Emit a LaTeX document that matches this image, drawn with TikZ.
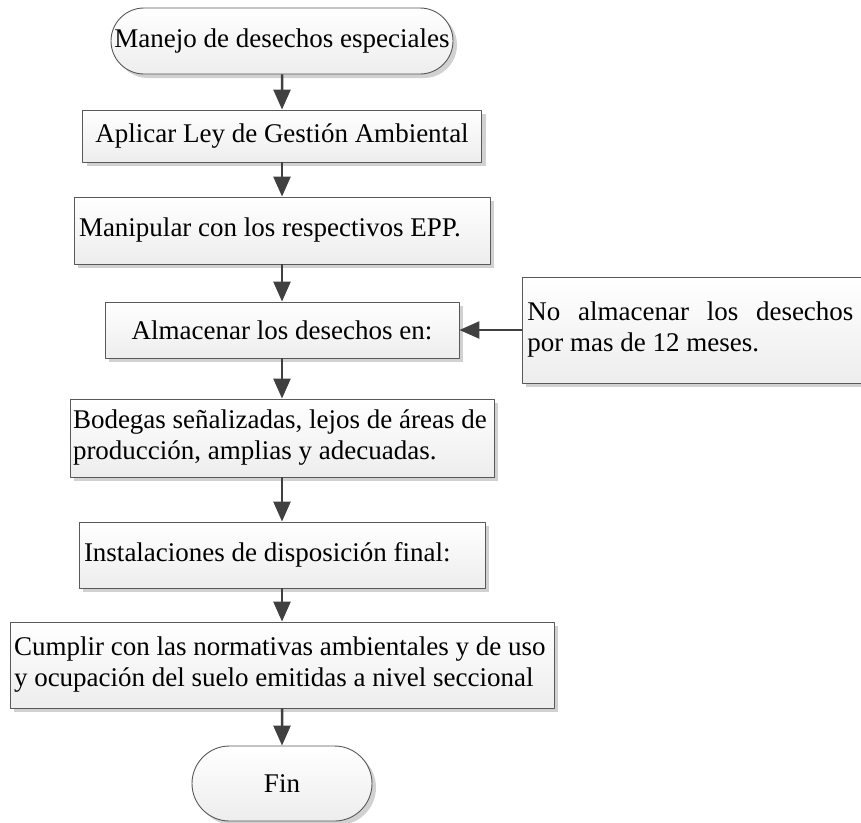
\documentclass[tikz,border=0pt]{standalone}
\usepackage{fontspec}
\setmainfont{Liberation Serif}
\usetikzlibrary{shapes.misc,shadows,arrows.meta}
\tikzset{
  box/.style={rectangle, draw=black!65, line width=0.9pt, top color=white, bottom color=black!7,
    drop shadow={shadow xshift=4pt, shadow yshift=-4pt, fill=black!18, opacity=1},
    inner xsep=5pt, inner ysep=0pt},
  term/.style={box, rounded rectangle},
  flow/.style={draw=black!75, line width=2.5pt, -{Triangle[length=20pt,width=17pt]}}
}
\begin{document}
\begin{tikzpicture}[x=1pt, y=-1pt, font=\fontsize{27}{31}\selectfont, line join=round]
\useasboundingbox (0,0) rectangle (861,822);
\node[term, minimum width=352pt, minimum height=66pt] (start) at (282,41) {Manejo de desechos especiales};
\node[box, minimum width=399pt, minimum height=52pt] (ley) at (282,136) {Aplicar Ley de Gestión Ambiental};
\node[box, minimum height=67pt, text width=406pt, align=flush left] (epp) at (282,230.5) {Manipular con los respectivos EPP.};
\node[box, minimum width=354pt, minimum height=56pt] (almacenar) at (282,330) {Almacenar los desechos en:};
\node[box, anchor=west, minimum height=106pt, text width=340pt, align=flush left] (plazo) at (522,330)
  {\hbox to 326pt{No\hfill almacenar\hfill los\hfill desechos}\\por mas de 12 meses.};
\node[box, inner xsep=3pt, minimum height=78pt, text width=418pt, align=flush left] (bodegas) at (282,438)
  {Bodegas señalizadas, lejos de áreas de\\producción, amplias y adecuadas.};
\node[box, minimum height=66pt, text width=396pt, align=flush left] (inst) at (282,555) {Instalaciones de disposición final:};
\node[box, inner xsep=4pt, minimum height=86pt, text width=536pt, align=flush left] (normas) at (282,665)
  {Cumplir con las normativas ambientales y de uso\\y ocupación del suelo emitidas a nivel seccional};
\node[term, minimum width=190pt, minimum height=75pt] (fin) at (282,783.5) {Fin};

\foreach \from/\to in {start/ley,ley/epp,epp/almacenar,almacenar/bodegas,bodegas/inst,inst/normas,normas/fin,plazo/almacenar}
\draw[flow]
(\from)--(\to)
;
\end{tikzpicture}
\end{document}
